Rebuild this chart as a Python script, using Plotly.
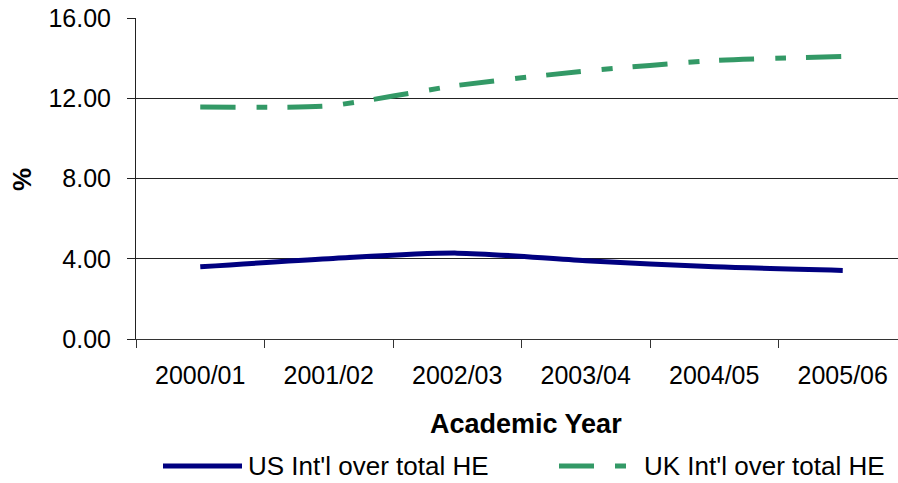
import plotly.graph_objects as go

# Academic years on the category axis
years = ["2000/01", "2001/02", "2002/03", "2003/04", "2004/05", "2005/06"]

# International students as a share of total higher-education enrolment (%)
us_intl_share = [3.60, 4.00, 4.28, 3.90, 3.60, 3.42]
uk_intl_share = [11.56, 11.62, 12.64, 13.36, 13.88, 14.08]

us_name = "US Int'l over total HE"
uk_name = "UK Int'l over total HE"

y_ticks = [0, 4, 8, 12, 16]

NAVY = "#000080"
GREEN = "#339966"
UK_DASH = "35px,21px,11px,20px"
FONT = "Liberation Sans, Arial, sans-serif"

W, H = 898, 483
L, R, T, B = 136, 0, 18, 144
plot_w = W - L - R
plot_h = H - T - B


def px_x(x):
    """Pixel column -> paper x."""
    return (x - L) / plot_w


def px_y(y):
    """Pixel row -> paper y."""
    return (H - B - y) / plot_h


fig = go.Figure()
fig.add_trace(go.Scatter(
    x=years, y=us_intl_share, name=us_name, mode="lines",
    line=dict(color=NAVY, width=5, shape="spline", smoothing=0.8),
    showlegend=False,
))
fig.add_trace(go.Scatter(
    x=years, y=uk_intl_share, name=uk_name, mode="lines",
    line=dict(color=GREEN, width=5, dash=UK_DASH, shape="spline", smoothing=0.55),
    showlegend=False,
))

# Hand-drawn legend below the axis title
legend_y = px_y(466)
fig.add_shape(type="line", xref="paper", yref="paper",
              x0=px_x(163), x1=px_x(242), y0=legend_y, y1=legend_y,
              line=dict(color=NAVY, width=5))
fig.add_shape(type="line", xref="paper", yref="paper",
              x0=px_x(559), x1=px_x(627), y0=legend_y, y1=legend_y,
              line=dict(color=GREEN, width=5, dash=UK_DASH))
fig.add_annotation(text=us_name, xref="paper", yref="paper",
                   x=px_x(246), y=legend_y, xanchor="left", yanchor="middle",
                   showarrow=False, font=dict(size=26, color="black", family=FONT))
fig.add_annotation(text=uk_name, xref="paper", yref="paper",
                   x=px_x(642), y=legend_y, xanchor="left", yanchor="middle",
                   showarrow=False, font=dict(size=26, color="black", family=FONT))

# Axis titles
fig.add_annotation(text="<b>Academic Year</b>", xref="paper", yref="paper",
                   x=px_x(526), y=px_y(424), xanchor="center", yanchor="middle",
                   showarrow=False, font=dict(size=27, color="black", family=FONT))
fig.add_annotation(text="<b>%</b>", xref="paper", yref="paper",
                   x=px_x(22), y=px_y(179), xanchor="center", yanchor="middle",
                   textangle=-90, showarrow=False,
                   font=dict(size=26, color="black", family=FONT))

fig.update_xaxes(
    type="category", range=[-0.5, -0.5 + plot_w / 128.5],
    tickson="boundaries", ticks="outside", ticklen=8, tickcolor="#333333",
    showline=True, linecolor="#333333", linewidth=1,
    showgrid=False, zeroline=False, ticklabelstandoff=14,
    tickfont=dict(size=25, color="black", family=FONT),
)
fig.update_yaxes(
    range=[0, 16], tickvals=y_ticks, tickformat=".2f",
    ticks="outside", ticklen=8, tickcolor="#222222",
    showline=True, linecolor="#222222", linewidth=1,
    showgrid=True, gridcolor="#222222", gridwidth=1, zeroline=False,
    ticklabelstandoff=11,
    tickfont=dict(size=25, color="black", family=FONT),
)
fig.update_layout(
    width=W, height=H,
    margin=dict(l=L, r=R, t=T, b=B, pad=0),
    paper_bgcolor="white", plot_bgcolor="white",
    font=dict(family=FONT, color="black"),
)

fig.write_html("out.html")
